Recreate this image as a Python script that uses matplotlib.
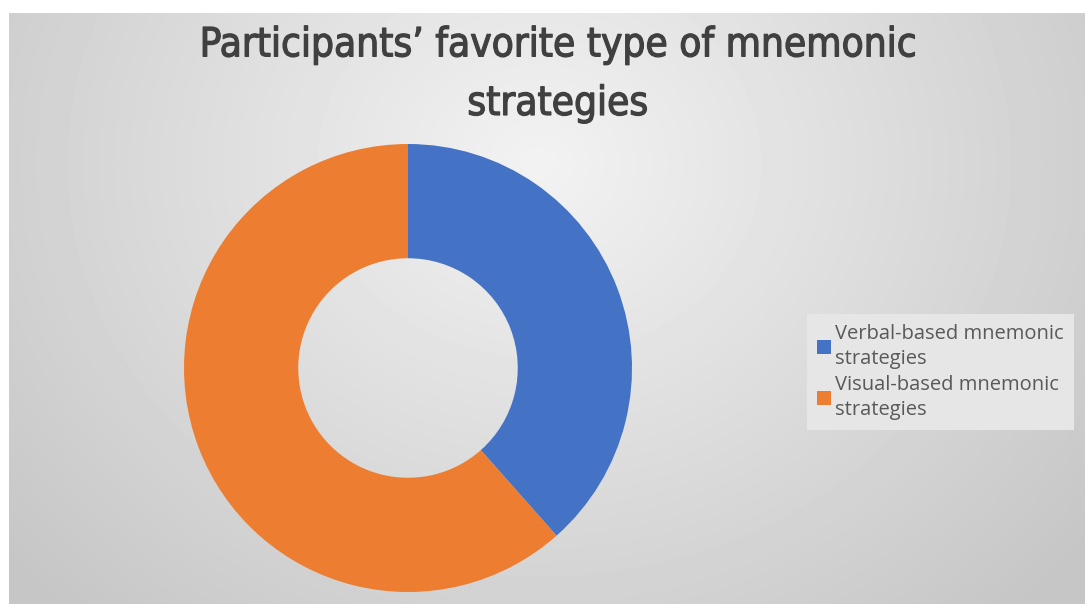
import numpy as np
import matplotlib.pyplot as plt
import matplotlib.patheffects as pe
from matplotlib.patches import Patch

# data
labels = ["Verbal-based mnemonic\nstrategies", "Visual-based mnemonic\nstrategies"]
counts = [5, 8]
colors = ["#4472C4", "#ED7D31"]
title = "Participants\u2019 favorite type of mnemonic\nstrategies"

W, H = 1085, 604
fig = plt.figure(figsize=(W / 100, H / 100), dpi=100)
fig.patch.set_facecolor("white")

# gradient background (chart area starts a bit in from top/left)
bg = fig.add_axes([9 / W, 0, 1 - 9 / W, 1 - 13 / H])
yy, xx = np.mgrid[0:H - 13, 0:W - 9]
d = np.sqrt(((xx - 530) / 640.0) ** 2 + ((yy - 150) / 560.0) ** 2)
shade = 0.95 - 0.16 * np.clip(d, 0, 1.1)
bg.imshow(shade, cmap="gray", vmin=0, vmax=1, aspect="auto", interpolation="bilinear")
bg.axis("off")

# donut
cx, cy, r = 408, 368, 224
ax = fig.add_axes([(cx - r) / W, (H - cy - r) / H, 2 * r / W, 2 * r / H])
ax.pie(counts, colors=colors, startangle=90, counterclock=False,
       radius=1, wedgeprops=dict(width=0.51, linewidth=0))
ax.set_xlim(-1, 1)
ax.set_ylim(-1, 1)
ax.set_aspect("equal")
ax.axis("off")

fig.text(0.514, 0.958, title, ha="center", va="top", fontsize=29,
         family="DejaVu Sans", fontstretch="condensed",
         color="#404040", linespacing=1.6,
         path_effects=[pe.withStroke(linewidth=0.9, foreground="#404040")])

# legend box
handles = [Patch(facecolor=c, edgecolor="none") for c in colors]
leg = fig.legend(handles, labels, loc="center left",
                 bbox_to_anchor=(807 / W, 1 - 372 / H), frameon=True,
                 labelcolor="#595959", handlelength=0.7,
                 handleheight=0.7, handletextpad=0.2, labelspacing=0.25,
                 borderpad=0.5, fancybox=False, borderaxespad=0,
                 prop={"family": "Open Sans", "size": 14.5})
for t in leg.get_texts():
    t.set_linespacing(1.35)
leg.get_frame().set_facecolor("#e6e6e6")
leg.get_frame().set_edgecolor("none")
leg.get_frame().set_alpha(1)

fig.savefig("out.png", dpi=100)
